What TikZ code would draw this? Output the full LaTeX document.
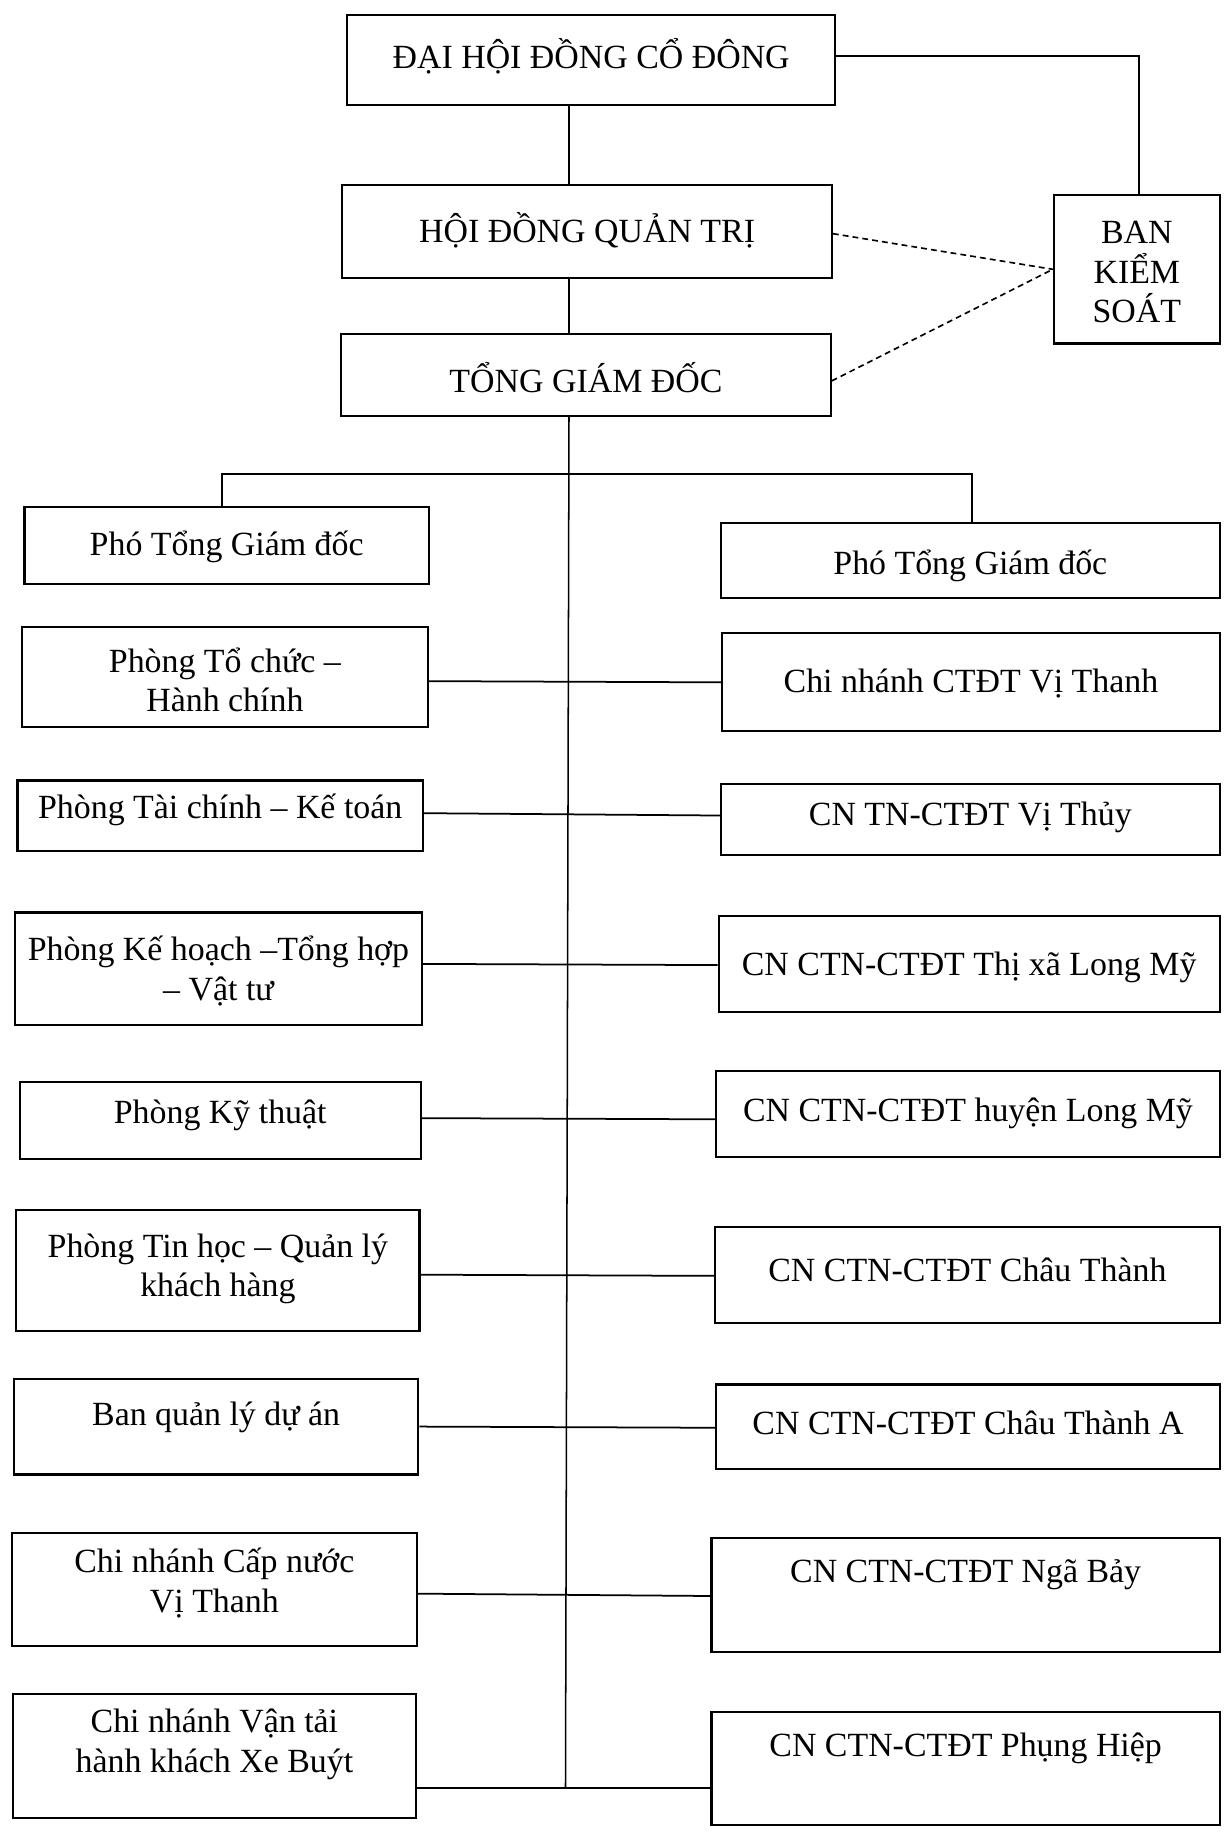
\documentclass[tikz,border=0pt]{standalone}
\usepackage{fontspec}
\setmainfont{Liberation Serif}
\newcommand\mybox[7]{%
  \node[boxshape, minimum width={(#4-#2)*1pt}, minimum height={(#5-#3)*1pt}] (#1) at ({(#2+#4)/2},{-(#3+#5)/2}) {};
  \node[boxtext] (#1-t) at ({(#2+#4)/2},{-#6}) {#7};
}
\begin{document}
\begin{tikzpicture}[x=1pt,y=1pt,
  boxshape/.style={draw, line width=1.8pt, inner sep=0pt},
  boxtext/.style={inner sep=0pt, align=center, font=\fontsize{29}{34}\selectfont},
  conn/.style={line width=1.5pt},
  spine/.style={line width=1.3pt},
  dsh/.style={line width=1.4pt, dash pattern=on 5pt off 3.5pt}]
\useasboundingbox (0,0) rectangle (1047,-1568);

\mybox{dh}{297}{13}{715}{90}{48}{ĐẠI HỘI ĐỒNG CỔ ĐÔNG}
\mybox{hd}{293}{158}{712}{238}{197}{HỘI ĐỒNG QUẢN TRỊ}
\mybox{tgd}{292}{286}{711}{356}{323}{TỔNG GIÁM ĐỐC}
\mybox{bks}{902}{167}{1044}{294}{233}{BAN\\KIỂM\\SOÁT}

\mybox{L1}{21}{434}{367}{500}{468}{Phó Tổng Giám đốc}
\mybox{L2}{19}{537}{366}{622}{582}{Phòng Tổ chức –\\Hành chính}
\mybox{L3}{15}{668}{362}{728}{693}{Phòng Tài chính – Kế toán}
\mybox{L4}{13}{781}{361}{877}{831}{Phòng Kế hoạch –Tổng hợp\\– Vật tư}
\mybox{L5}{17}{926}{360}{992}{955}{Phòng Kỹ thuật}
\mybox{L6}{14}{1036}{359}{1139}{1086}{Phòng Tin học – Quản lý\\khách hàng}
\mybox{L7}{12}{1180}{358}{1262}{1213}{Ban quản lý dự án}
\mybox{L8}{10}{1312}{357}{1409}{1355}{Chi nhánh Cấp nước\\Vị Thanh}
\mybox{L9}{11}{1450}{356}{1556}{1493}{Chi nhánh Vận tải\\hành khách Xe Buýt}

\mybox{R1}{617}{448}{1044}{512}{484}{Phó Tổng Giám đốc}
\mybox{R2}{618}{542}{1044}{626}{585}{Chi nhánh CTĐT Vị Thanh}
\mybox{R3}{617}{671}{1044}{732}{700}{CN TN-CTĐT Vị Thủy}
\mybox{R4}{615}{784}{1044}{866}{828}{CN CTN-CTĐT Thị xã Long Mỹ}
\mybox{R5}{613}{917}{1044}{990}{953}{CN CTN-CTĐT huyện Long Mỹ}
\mybox{R6}{612}{1050}{1044}{1132}{1087}{CN CTN-CTĐT Châu Thành}
\mybox{R7}{613}{1185}{1044}{1257}{1218}{CN CTN-CTĐT Châu Thành A}
\mybox{R8}{609}{1316}{1044}{1414}{1348}{CN CTN-CTĐT Ngã Bảy}
\mybox{R9}{609}{1465}{1044}{1562}{1496}{CN CTN-CTĐT Phụng Hiệp}

% spine
\coordinate (sx) at (487,0);
\coordinate (spb) at (484,-1530);
\draw[spine] (dh.south -| sx) -- (hd.north -| sx);
\draw[spine] (hd.south -| sx) -- (tgd.north -| sx);
\draw[spine] (tgd.south -| sx) -- (spb);

% ban kiem soat
\draw[conn] (dh.east |- 0,-48) -| (bks.north -| 975,0);
\draw[dsh] (hd.east |- 0,-200) -- (bks.west);
\draw[dsh] (tgd.east |- 0,-326) -- (bks.west);

% deputies
\draw[conn] (L1.north -| 190,0) -- (190,-406) -- (832,-406) -- (R1.north -| 832,0);

% rows
\draw[conn] (L2.east |- 0,-583) -- (R2.west |- 0,-584);
\draw[conn] (L3.east |- 0,-696) -- (R3.west |- 0,-698);
\draw[conn] (L4.east |- 0,-825) -- (R4.west |- 0,-826);
\draw[conn] (L5.east |- 0,-957) -- (R5.west |- 0,-958);
\draw[conn] (L6.east |- 0,-1091) -- (R6.west |- 0,-1092);
\draw[conn] (L7.east |- 0,-1221) -- (R7.west |- 0,-1222);
\draw[conn] (L8.east |- 0,-1364) -- (R8.west |- 0,-1366);
\draw[conn] (L9.east |- 0,-1530) -- (R9.west |- 0,-1530);
\end{tikzpicture}
\end{document}
